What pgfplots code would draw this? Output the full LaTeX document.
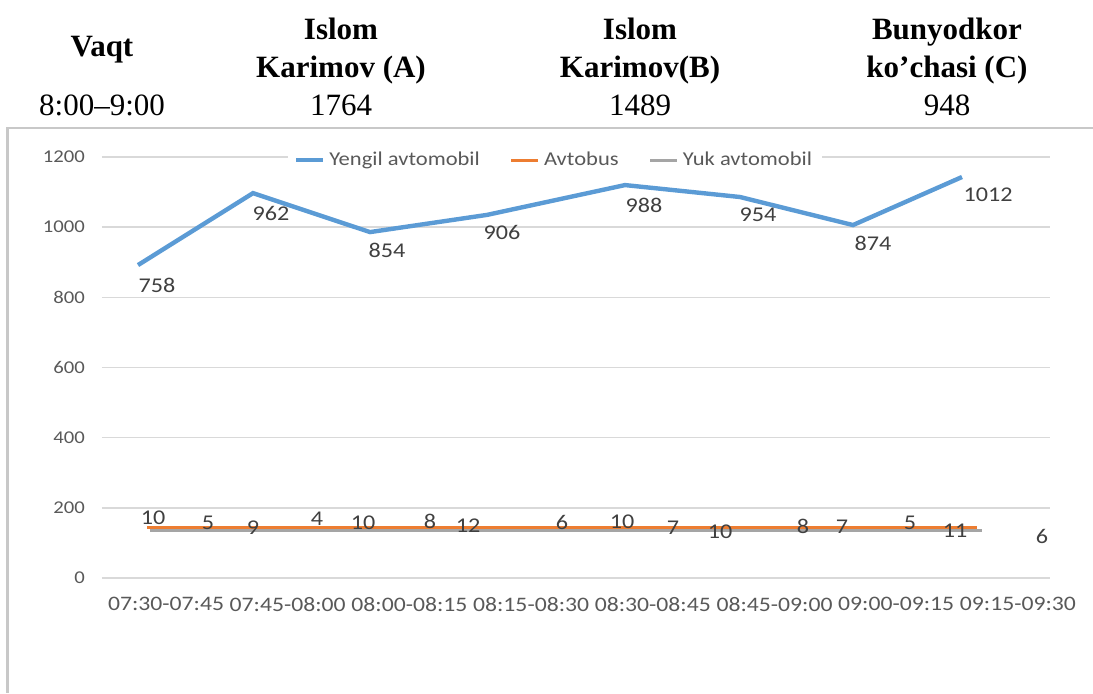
\documentclass[border=0pt]{standalone}
\usepackage{fontspec}
\setmainfont{Liberation Serif}
\newfontfamily\cf[FakeStretch=1.15]{Carlito}
\usepackage{pgfplots}
\pgfplotsset{compat=1.18}
\definecolor{cblue}{HTML}{5B9BD5}
\definecolor{corange}{HTML}{ED7D31}
\definecolor{cgray}{HTML}{A5A5A5}
\definecolor{gridc}{HTML}{D9D9D9}
\definecolor{tickc}{HTML}{595959}
\definecolor{labc}{HTML}{404040}
\definecolor{framec}{HTML}{C8C8C8}
\begin{document}
\begin{tikzpicture}
\path[use as bounding box] (0,0) rectangle (546.5pt,-346.5pt);
% table header
\begin{scope}[x=0.5pt,y=-0.5pt,every node/.style={anchor=base,inner sep=0pt,font=\fontsize{15.5}{19}\selectfont}]
\node at (102,56) {\bfseries Vaqt};
\node at (341,39) {\bfseries Islom};
\node at (341,77) {\bfseries Karimov (A)};
\node at (640,39) {\bfseries Islom};
\node at (640,77) {\bfseries Karimov(B)};
\node at (947,39) {\bfseries Bunyodkor};
\node at (947,77) {\bfseries ko’chasi (C)};
\node at (102,115) {8:00–9:00};
\node at (341,115) {1764};
\node at (640,115) {1489};
\node at (947,115) {948};
\draw[framec,line width=1.3pt] (1093,128) -- (7.5,128) -- (7.5,693);
\end{scope}
\begin{axis}[
  at={(51pt,-289pt)}, anchor=south west,
  scale only axis, width=474pt, height=210.5pt,
  xmin=102, xmax=1050, ymin=0, ymax=1200,
  axis line style={draw=none}, major tick length=0pt,
  /pgf/number format/assume math mode=true,
  /pgf/number format/1000 sep={},
  ytick={0,200,...,1200},
  xtick={166,287.7,409.4,531.1,652.8,774.5,896.2,1017.9},
  xticklabels={07:30-07:45,07:45-08:00,08:00-08:15,08:15-08:30,08:30-08:45,08:45-09:00,09:00-09:15,09:15-09:30},
  ymajorgrids, grid style={gridc,line width=0.8pt},
  yticklabel style={font=\cf\fontsize{9}{10}\selectfont,text=tickc,xshift=-5pt},
  xticklabel style={font=\cf\fontsize{10.3}{12}\selectfont,text=tickc,yshift=-6pt},
  legend columns=3,
  legend style={at={(axis cs:555,1191)},anchor=center,draw=none,fill=white,
    font=\cf\fontsize{9.8}{11}\selectfont,text=tickc,
    /tikz/every even column/.append style={column sep=13pt}},
  legend image code/.code={\draw[#1] (0pt,0pt) -- (13.5pt,0pt);},
]
\addplot[cblue,line width=2.2pt,mark=none] coordinates {
(138,892) (253,1097) (370,986) (487,1035) (625,1120) (740,1086) (853,1006) (962,1143)};
\addlegendentry{Yengil avtomobil}
\addplot[cgray,line width=1.6pt,mark=none,forget plot] coordinates {
(150,136) (268.9,136) (387.7,136) (506.6,136) (625.4,136) (744.3,136) (863.1,136) (982,136)};
\addplot[corange,line width=1.6pt,mark=none] coordinates {
(147,144) (265.6,144) (384.1,144) (502.7,144) (621.3,144) (739.9,144) (858.4,144) (977,144)};
\addlegendentry{Avtobus}
\addlegendimage{cgray,line width=1.6pt}
\addlegendentry{Yuk avtomobil}
\addplot[draw=none,mark=none,forget plot,nodes near coords,point meta=explicit symbolic,
  nodes near coords style={anchor=center,inner sep=0pt,font=\cf\fontsize{10.5}{12}\selectfont,text=labc}] coordinates {
(157,835) [758] (271,1040) [962] (387,935) [854] (502,986) [906]
(644,1063) [988] (758,1035) [954] (873,955) [874] (988,1092) [1012]};
\addplot[draw=none,mark=none,forget plot,nodes near coords,point meta=explicit symbolic,
  nodes near coords style={anchor=center,inner sep=0pt,font=\cf\fontsize{10.5}{12}\selectfont,text=labc}] coordinates {
(153,171) [10] (208,157) [5] (253,143) [9] (317,168) [4] (363,157) [10] (430,162) [8] (468,148) [12]
(562,157) [6] (622,160) [10] (673,143) [7] (720,131) [10] (803,148) [8] (842,145) [7] (910,157) [5]
(955,134) [11] (1042,117) [6]};
\end{axis}
\end{tikzpicture}
\end{document}
